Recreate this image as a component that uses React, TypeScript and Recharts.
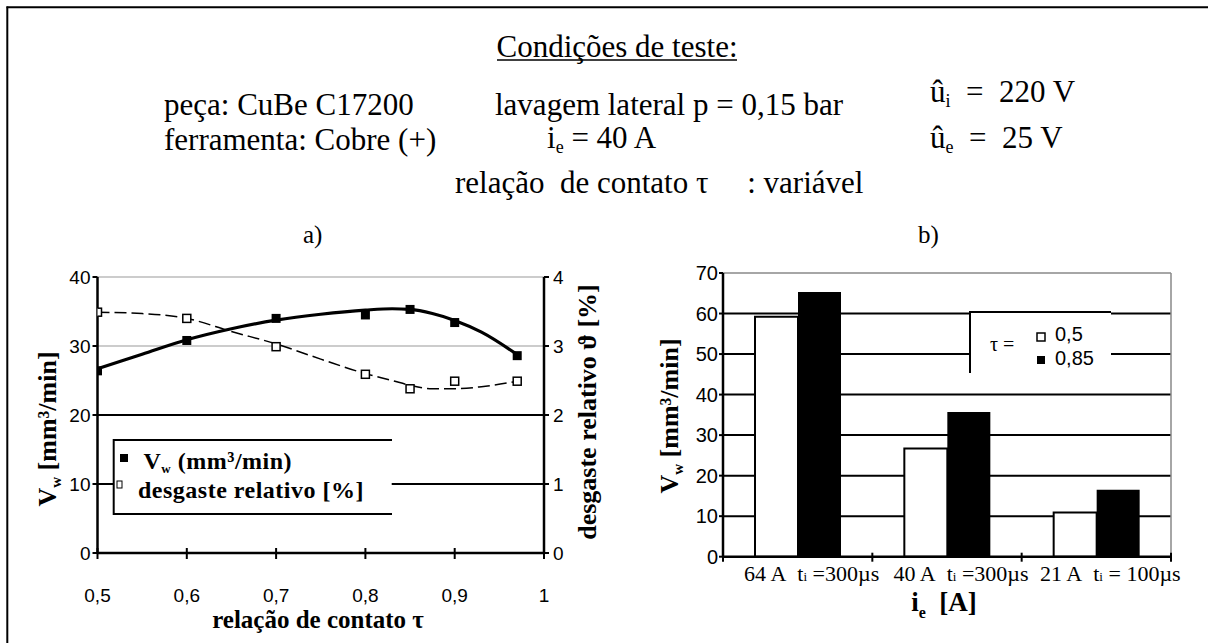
import React from 'react';
import { ComposedChart, BarChart, Bar, Line, Scatter, XAxis, YAxis, CartesianGrid } from 'recharts';

// a) removal rate and relative wear vs contact ratio
const tau = [0.5, 0.6, 0.7, 0.8, 0.85, 0.9, 0.97];
const vwMeasured = [26.4, 30.8, 34.0, 34.5, 35.3, 33.4, 28.6];
const wearMeasured = [3.49, 3.4, 2.99, 2.59, 2.38, 2.49, 2.49];

// fitted trend curves
const tauCurve = [0.5, 0.55, 0.6, 0.65, 0.7, 0.75, 0.8, 0.83, 0.85, 0.875, 0.9, 0.93, 0.97];
const vwCurve = [26.7, 28.8, 30.9, 32.5, 33.75, 34.6, 35.2, 35.4, 35.3, 34.7, 33.7, 32.0, 28.75];
const wearCurve = [3.49, 3.47, 3.4, 3.21, 3.03, 2.81, 2.6, 2.5, 2.43, 2.38, 2.38, 2.41, 2.49];

const tauTicks = [0.5, 0.6, 0.7, 0.8, 0.9, 1];
const vwTicks = [0, 10, 20, 30, 40];
const wearTicks = [0, 1, 2, 3, 4];

// b) removal rate per discharge current
const currents = ['64 A', '40 A', '21 A'];
const pulseTimes = ['=300µs', '=300µs', '= 100µs'];
const vwTau050 = [59.2, 26.7, 10.9];
const vwTau085 = [65.3, 35.7, 16.5];
const barTicks = [0, 10, 20, 30, 40, 50, 60, 70];

const serif = '"Liberation Serif", "Times New Roman", serif';
const sans = '"Liberation Sans", Arial, sans-serif';

const vwPoints = tau.map((x, i) => ({ x, y: vwMeasured[i] }));
const wearPoints = tau.map((x, i) => ({ x, y: wearMeasured[i] }));
const vwLine = tauCurve.map((x, i) => ({ x, y: vwCurve[i] }));
const wearLine = tauCurve.map((x, i) => ({ x, y: wearCurve[i] }));
const barData = currents.map((c, i) => ({ current: c, t050: vwTau050[i], t085: vwTau085[i] }));

const FilledSquare = (p: any) => (
  <rect x={p.cx - 4.5} y={p.cy - 4.5} width={9} height={9} fill="#000" />
);
const OpenSquare = (p: any) => (
  <rect x={p.cx - 4} y={p.cy - 4} width={8} height={8} fill="#fff" stroke="#000" strokeWidth={1.5} />
);

const TauTick = (p: any) => (
  <g>
    <line x1={p.x} x2={p.x} y1={p.y - 5} y2={p.y + 6} stroke="#000" strokeWidth={2} />
    <text x={p.x} y={p.y + 49} textAnchor="middle" fontFamily={sans} fontSize={19} fill="#000">
      {String(p.payload.value).replace('.', ',')}
    </text>
  </g>
);

const IeTick = (p: any) => {
  const half = p.payload && p.payload.offset ? p.payload.offset : 74.7;
  const i = p.index;
  return (
    <g>
      <line x1={p.x - half} x2={p.x - half} y1={p.y - 4} y2={p.y + 5} stroke="#000" strokeWidth={2} />
      {i === currents.length - 1 && (
        <line x1={p.x + half} x2={p.x + half} y1={p.y - 4} y2={p.y + 5} stroke="#000" strokeWidth={2} />
      )}
      <text x={p.x + 14} y={p.y + 24} textAnchor="middle" fontFamily={serif} fontSize={22} fill="#000">
        {currents[i]}{'\u00a0\u00a0'}t<tspan fontSize={13}>i</tspan>{'\u00a0' + pulseTimes[i]}
      </text>
    </g>
  );
};

const yTickStyle = { fontFamily: sans, fontSize: 19, fill: '#000' };

const Overlay = () => (
  <svg width={1208} height={643} style={{ position: 'absolute', left: 0, top: 0, pointerEvents: 'none' }}>
    {/* frame */}
    <line x1={6.5} x2={1208} y1={7.3} y2={7.3} stroke="#000" strokeWidth={2} />
    <line x1={7.3} x2={7.3} y1={6.5} y2={643} stroke="#000" strokeWidth={2} />

    {/* test conditions */}
    <g fontFamily={serif} fontSize={31} fill="#000">
      <text x={617} y={57} textAnchor="middle">Condições de teste:</text>
      <line x1={497} x2={737} y1={60} y2={60} stroke="#000" strokeWidth={1.5} />
      <text x={164} y={115}>peça: CuBe C17200</text>
      <text x={495} y={115}>lavagem lateral p = 0,15 bar</text>
      <text x={930} y={102}>û<tspan fontSize={18} dy={5}>i</tspan><tspan dy={-5}>{'\u2002=\u2002220 V'}</tspan></text>
      <text x={164} y={150}>ferramenta: Cobre (+)</text>
      <text x={547} y={148}>i<tspan fontSize={18} dy={5}>e</tspan><tspan dy={-5}> = 40 A</tspan></text>
      <text x={930} y={148}>û<tspan fontSize={18} dy={5}>e</tspan><tspan dy={-5}>{'\u2002=\u200225 V'}</tspan></text>
      <text x={455} y={193}>{'relação\u00a0 de contato τ\u00a0\u00a0\u00a0\u00a0 : variável'}</text>
      <text x={303} y={243} fontSize={25}>a)</text>
      <text x={918} y={243} fontSize={25}>b)</text>
    </g>

    {/* a) axis titles */}
    <g fontFamily={serif} fontWeight="bold" fill="#000">
      <text x={56} y={429} fontSize={26} textAnchor="middle" transform="rotate(-90 56 429)">
        V<tspan fontSize={15} dy={5}>w</tspan><tspan dy={-5}> [mm³/min]</tspan>
      </text>
      <text x={596} y={412} fontSize={26} textAnchor="middle" transform="rotate(-90 596 412)">
        desgaste relativo ϑ [%]
      </text>
      <text x={318} y={628} fontSize={25} textAnchor="middle">relação de contato τ</text>
    </g>

    {/* a) legend */}
    <rect x={113.7} y={440} width={278} height={74} fill="#fff" />
    <line x1={113.7} x2={392} y1={440} y2={440} stroke="#000" strokeWidth={2} />
    <line x1={113.7} x2={392} y1={514} y2={514} stroke="#000" strokeWidth={2} />
    <line x1={113.7} x2={113.7} y1={439} y2={515} stroke="#000" strokeWidth={2} />
    <rect x={120} y={454} width={8} height={8} fill="#000" />
    <rect x={117} y={481} width={5} height={7} fill="#fff" stroke="#000" strokeWidth={1} />
    <g fontFamily={serif} fontWeight="bold" fontSize={24} fill="#000" letterSpacing={0.5}>
      <text x={143.5} y={469}>V<tspan fontSize={13} dy={4}>w</tspan><tspan dy={-4}> (mm³/min)</tspan></text>
      <text x={138} y={498}>desgaste relativo [%]</text>
    </g>

    {/* b) axis titles */}
    <g fontFamily={serif} fontWeight="bold" fill="#000">
      <text x={678} y={416} fontSize={26} textAnchor="middle" transform="rotate(-90 678 416)">
        V<tspan fontSize={15} dy={5}>w</tspan><tspan dy={-5}> [mm³/min]</tspan>
      </text>
      <text x={944} y={611} fontSize={27} textAnchor="middle">
        i<tspan fontSize={16} dy={7}>e</tspan><tspan dy={-7}>{'\u00a0 [A]'}</tspan>
      </text>
    </g>

    {/* b) legend */}
    <rect x={970} y={312} width={141} height={61} fill="#fff" />
    <line x1={970} x2={1111} y1={312} y2={312} stroke="#000" strokeWidth={2} />
    <line x1={970} x2={970} y1={311} y2={373} stroke="#000" strokeWidth={2} />
    <text x={990} y={351} fontFamily={serif} fontSize={20} fill="#000">τ =</text>
    <rect x={1037} y={333} width={8} height={8} fill="#fff" stroke="#000" strokeWidth={1.5} />
    <rect x={1037} y={356} width={8} height={8} fill="#000" />
    <text x={1055} y={341} fontFamily={sans} fontSize={20} fill="#000">0,5</text>
    <text x={1055} y={365} fontFamily={sans} fontSize={20} fill="#000">0,85</text>
  </svg>
);

const App = () => (
  <div style={{ position: 'absolute', left: 0, top: 0, width: 1208, height: 643, background: '#fff' }}>
    <div style={{ position: 'absolute', left: 0, top: 0 }}>
      <ComposedChart width={600} height={643} margin={{ top: 277, right: 16, bottom: 50, left: 37.5 }}>
        <CartesianGrid yAxisId="l" horizontalValues={[30, 40]} vertical={false} stroke="#999" strokeWidth={1} />
        <CartesianGrid yAxisId="l" horizontalValues={[10, 20]} vertical={false} stroke="#000" strokeWidth={2} />
        <XAxis
          dataKey="x"
          type="number"
          domain={[0.5, 1]}
          ticks={tauTicks}
          height={40}
          tick={<TauTick />}
          tickLine={false}
          tickSize={0}
          tickMargin={0}
          axisLine={{ stroke: '#000', strokeWidth: 2.5 }}
          allowDataOverflow
        />
        <YAxis
          yAxisId="l"
          domain={[0, 40]}
          ticks={vwTicks}
          width={60}
          tick={yTickStyle}
          tickSize={5}
          tickMargin={2}
          tickLine={{ stroke: '#000', strokeWidth: 2 }}
          axisLine={{ stroke: '#000', strokeWidth: 2.5 }}
        />
        <YAxis
          yAxisId="r"
          orientation="right"
          domain={[0, 4]}
          ticks={wearTicks}
          width={40}
          tick={yTickStyle}
          tickSize={5}
          tickMargin={4}
          tickLine={{ stroke: '#000', strokeWidth: 2 }}
          axisLine={{ stroke: '#000', strokeWidth: 2.5 }}
        />
        <Line yAxisId="l" data={vwLine} dataKey="y" type="monotone" stroke="#000" strokeWidth={3.2} dot={false} isAnimationActive={false} />
        <Line yAxisId="r" data={wearLine} dataKey="y" type="monotone" stroke="#000" strokeWidth={1.5} strokeDasharray="12 5" dot={false} isAnimationActive={false} />
        <Scatter yAxisId="l" data={vwPoints} dataKey="y" shape={<FilledSquare />} isAnimationActive={false} />
        <Scatter yAxisId="r" data={wearPoints} dataKey="y" shape={<OpenSquare />} isAnimationActive={false} />
      </ComposedChart>
    </div>
    <div style={{ position: 'absolute', left: 600, top: 0 }}>
      <BarChart width={608} height={643} data={barData} margin={{ top: 273, right: 36, bottom: 56.3, left: 63 }} barGap={0} barSize={43}>
        <CartesianGrid horizontalValues={[10, 20, 30, 40, 50, 60]} vertical={false} stroke="#000" strokeWidth={2} />
        <CartesianGrid horizontalValues={[70]} vertical={false} stroke="#888" strokeWidth={1.5} />
        <XAxis
          dataKey="current"
          height={30}
          interval={0}
          tick={<IeTick />}
          tickLine={false}
          tickSize={0}
          tickMargin={0}
          axisLine={{ stroke: '#000', strokeWidth: 2.5 }}
        />
        <YAxis
          domain={[0, 70]}
          ticks={barTicks}
          width={60}
          tick={{ fontFamily: sans, fontSize: 20, fill: '#000' }}
          tickSize={4}
          tickMargin={1}
          tickLine={{ stroke: '#000', strokeWidth: 2 }}
          axisLine={{ stroke: '#000', strokeWidth: 2.5 }}
        />
        <YAxis yAxisId="edge" orientation="right" width={1} tick={false} tickLine={false} axisLine={{ stroke: '#888', strokeWidth: 1.5 }} />
        <Bar dataKey="t050" fill="#fff" stroke="#000" strokeWidth={2} isAnimationActive={false} />
        <Bar dataKey="t085" fill="#000" isAnimationActive={false} />
      </BarChart>
    </div>
    <Overlay />
  </div>
);

export default App;
